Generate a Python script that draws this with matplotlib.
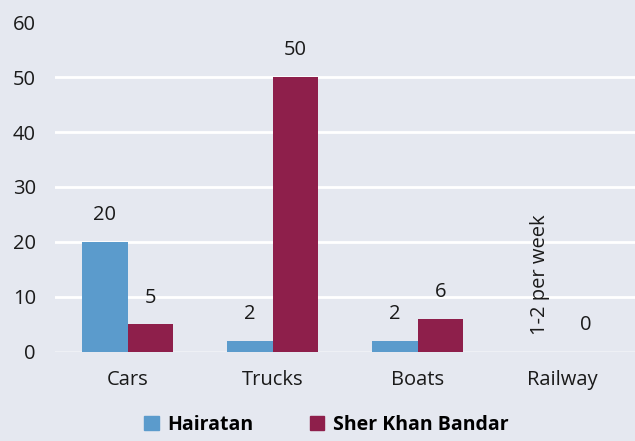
import matplotlib.pyplot as plt
import numpy as np
from matplotlib.patches import Patch

plt.rcParams["font.family"] = ["Open Sans", "DejaVu Sans"]

categories = ["Cars", "Trucks", "Boats", "Railway"]
hairatan = [20, 2, 2, np.nan]
sher_khan = [5, 50, 6, 0]
hairatan_labels = ["20", "2", "2", "1-2 per week"]
sher_khan_labels = ["5", "50", "6", "0"]

blue = "#5B9BCC"
maroon = "#8E1F4B"
bg = "#E5E8F0"
fs = 14.5

fig = plt.figure(figsize=(6.35, 4.41), dpi=100, facecolor=bg)
ax = fig.add_axes([0.087, 0.202, 0.913, 0.748])
ax.set_facecolor(bg)

x = np.arange(len(categories))
w = 0.315
ax.bar(x - w / 2, np.nan_to_num(hairatan), w, color=blue, zorder=3)
ax.bar(x + w / 2, sher_khan, w, color=maroon, zorder=3)

for i in range(len(categories)):
    hv = 0 if np.isnan(hairatan[i]) else hairatan[i]
    rot = 90 if np.isnan(hairatan[i]) else 0
    ax.annotate(hairatan_labels[i], (x[i] - w / 2, hv), xytext=(0, 12),
                textcoords="offset points", ha="center", va="bottom",
                rotation=rot, fontsize=fs, color="#1a1a1a")
    ax.annotate(sher_khan_labels[i], (x[i] + w / 2, sher_khan[i]), xytext=(0, 12),
                textcoords="offset points", ha="center", va="bottom",
                fontsize=fs, color="#1a1a1a")

ax.set_xlim(-0.5, 3.5)
ax.set_ylim(0, 60)
ax.set_yticks(range(0, 61, 10))
ax.set_xticks(x)
ax.set_xticklabels(categories)
ax.tick_params(axis="both", length=0, labelsize=fs, colors="#1a1a1a")
ax.tick_params(axis="x", pad=13)
ax.tick_params(axis="y", pad=14)

# white gridlines between the top and bottom edges only
for yv in range(10, 60, 10):
    ax.axhline(yv, color="white", linewidth=2, zorder=0)
ax.axhline(0, color="#EEF0F5", linewidth=1.5, zorder=0)
for s in ax.spines.values():
    s.set_visible(False)

handles = [Patch(color=blue, label="Hairatan"), Patch(color=maroon, label="Sher Khan Bandar")]
fig.legend(handles=handles, loc="lower center", bbox_to_anchor=(0.514, -0.025),
           ncol=2, frameon=False, prop={"weight": "bold", "size": 14},
           handlelength=0.75, handleheight=0.75, handletextpad=0.45, columnspacing=2.9)

fig.savefig("out.png", dpi=100, facecolor=bg)
